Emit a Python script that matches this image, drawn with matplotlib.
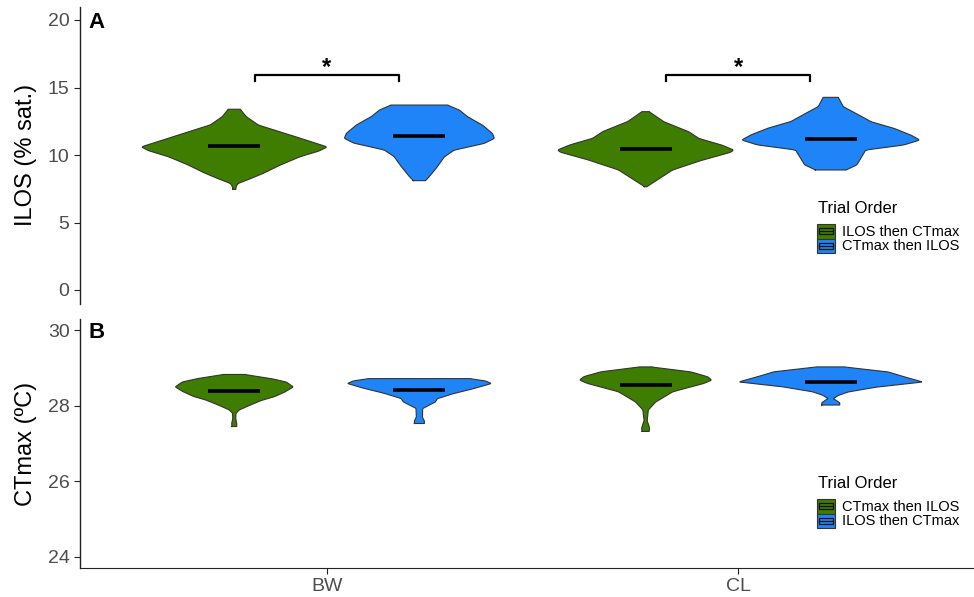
import numpy as np
import matplotlib
matplotlib.use("Agg")
import matplotlib.pyplot as plt
from matplotlib.patches import Rectangle
from matplotlib.lines import Line2D

plt.rcParams['font.family'] = ['Liberation Sans', 'DejaVu Sans']

# ---------------- data ----------------
sites = ["BW", "CL"]

# Panel A (ILOS) violin outlines: y values and half-width density readings
A_BW_first_y = [7.45, 7.7, 7.9, 8.15, 8.64, 9.26, 9.88, 10.3, 10.6, 10.9, 11.36, 11.85, 12.22, 12.84, 13.2, 13.39]
A_BW_first_d = [1.5, 2, 4, 13, 29, 46, 66, 85, 93, 80, 61, 40, 24, 12, 8, 6]
A_BW_second_y = [8.1, 8.4, 9.13, 9.87, 10.37, 10.86, 11.23, 11.6, 12.22, 12.84, 13.33, 13.7]
A_BW_second_d = [6, 10, 18, 25, 35, 65, 75, 73, 63, 48, 40, 28]
A_CL_first_y = [7.65, 8.27, 8.89, 9.63, 10.2, 10.37, 10.74, 11.23, 11.73, 12.47, 13.21]
A_CL_first_d = [1, 14, 27, 57, 85, 88, 76, 53, 43, 18, 3.5]
A_CL_second_y = [8.89, 9.26, 9.87, 10.37, 10.74, 11.11, 11.48, 11.98, 12.47, 13.09, 13.58, 14.27]
A_CL_second_d = [15, 26, 31, 35, 73, 89, 80, 63, 40, 25, 12.5, 7.5]
A_medians_first = [10.67, 10.44]
A_medians_second = [11.41, 11.16]

# Panel B (CTmax) violin outlines
B_BW_first_y = [27.45, 27.55, 27.65, 27.8, 27.89, 28.02, 28.15, 28.24, 28.37, 28.5, 28.63, 28.72, 28.83]
B_BW_first_d = [2.5, 2.5, 1.5, 1.7, 5, 16, 28, 40, 51, 59, 52, 37, 10]
B_BW_second_y = [27.53, 27.6, 27.7, 27.93, 28.05, 28.10, 28.19, 28.33, 28.46, 28.59, 28.66, 28.72]
B_BW_second_d = [5, 5, 3, 3.3, 12, 16, 18, 35, 55, 72, 66, 50]
B_CL_first_y = [27.32, 27.4, 27.5, 27.6, 27.89, 28.10, 28.24, 28.37, 28.5, 28.59, 28.68, 28.77, 28.9, 29.03]
B_CL_first_d = [3.5, 4, 3, 1.5, 2.7, 10, 19, 27, 45, 58, 66, 62, 45, 5]
B_CL_second_y = [28.02, 28.08, 28.15, 28.19, 28.28, 28.37, 28.5, 28.63, 28.77, 28.9, 29.03]
B_CL_second_d = [9, 9, 5, 2.5, 8, 18, 47, 92, 73, 57, 13]
B_medians_first = [28.38, 28.54]
B_medians_second = [28.43, 28.63]

A_legend_labels = ["ILOS then CTmax", "CTmax then ILOS"]
B_legend_labels = ["CTmax then ILOS", "ILOS then CTmax"]
legend_title = "Trial Order"

sig_sites = [0, 1]
sig_labels = ["*", "*"]
sig_height = 15.93

# ---------------- styles ----------------
GREEN = "#3F7D00"
BLUE = "#1E84F7"
EDGE = "#333333"
DODGE = 0.225
WIDTH_SCALE = 1.0 / 411.0
MED_HALF = 0.063

W, H = 974, 597
fig = plt.figure(figsize=(W / 100, H / 100), dpi=100)

def ax_rect(left, right, top, bottom):
    return [left / W, 1 - bottom / H, (right - left) / W, (bottom - top) / H]

axA = fig.add_axes(ax_rect(80, 985, 6.5, 303.5))
axB = fig.add_axes(ax_rect(80, 985, 319, 568))

def draw_violin(ax, xc, ys, ds, color):
    ys = np.asarray(ys, float)
    ds = np.asarray(ds, float)
    yy = np.linspace(ys[0], ys[-1], 300)
    hw = np.interp(yy, ys, ds)
    k = np.ones(7) / 7
    pad = np.pad(hw, 3, mode="edge")
    hw = np.convolve(pad, k, mode="valid") * WIDTH_SCALE
    ax.fill_betweenx(yy, xc - hw, xc + hw, facecolor=color, edgecolor="none", zorder=2)
    px = np.concatenate([xc - hw, (xc + hw)[::-1], [(xc - hw)[0]]])
    py = np.concatenate([yy, yy[::-1], [yy[0]]])
    ax.plot(px, py, color=EDGE, lw=0.8, zorder=3)

def draw_median(ax, xc, m):
    ax.plot([xc - MED_HALF, xc + MED_HALF], [m, m], color="black", lw=2.6,
            solid_capstyle="butt", zorder=4)

panelA = [(A_BW_first_y, A_BW_first_d, A_BW_second_y, A_BW_second_d),
          (A_CL_first_y, A_CL_first_d, A_CL_second_y, A_CL_second_d)]
panelB = [(B_BW_first_y, B_BW_first_d, B_BW_second_y, B_BW_second_d),
          (B_CL_first_y, B_CL_first_d, B_CL_second_y, B_CL_second_d)]

for ax, panel, mf, ms in [(axA, panelA, A_medians_first, A_medians_second),
                          (axB, panelB, B_medians_first, B_medians_second)]:
    for i, (y1, d1, y2, d2) in enumerate(panel):
        pos = i + 1
        draw_violin(ax, pos - DODGE, y1, d1, GREEN)
        draw_violin(ax, pos + DODGE, y2, d2, BLUE)
        draw_median(ax, pos - DODGE, mf[i])
        draw_median(ax, pos + DODGE, ms[i])

# significance brackets
for i, star in zip(sig_sites, sig_labels):
    pos = i + 1
    x0, x1 = pos - 0.175, pos + 0.175
    axA.plot([x0, x0, x1, x1], [sig_height - 0.45, sig_height, sig_height, sig_height - 0.45],
             color="black", lw=1.6, zorder=3)
    axA.text(pos, sig_height + 0.55, star, ha="center", va="center", fontsize=17,
             fontweight="bold", color="black")

# axes styling
for ax in (axA, axB):
    ax.set_xlim(0.4, 2.6)
    for s in ("top", "right"):
        ax.spines[s].set_visible(False)
    ax.spines["left"].set_color("#222222")
    ax.spines["left"].set_linewidth(1.0)
    ax.tick_params(axis="y", labelsize=14, colors="#222222", labelcolor="#4D4D4D", length=4, width=0.8)

axA.set_ylim(-1, 21)
axA.set_yticks([0, 5, 10, 15, 20])
axA.spines["bottom"].set_visible(False)
axA.set_xticks([])
axA.set_ylabel("ILOS (% sat.)", fontsize=17, labelpad=8)

axB.set_ylim(23.7, 30.3)
axB.set_yticks([24, 26, 28, 30])
axB.set_xticks([1, 2])
axB.set_xticklabels(sites)
axB.spines["bottom"].set_color("#222222")
axB.tick_params(axis="x", labelsize=14, colors="#222222", labelcolor="#4D4D4D", length=4, width=0.8, pad=3)
axB.set_ylabel("CTmax (ºC)", fontsize=17, labelpad=8)

fig.text(88 / W, 1 - 22 / H, "A", fontsize=16, fontweight="bold", va="center", ha="left")
fig.text(88 / W, 1 - 332 / H, "B", fontsize=16, fontweight="bold", va="center", ha="left")

# legends (drawn in figure pixel coordinates)
def fx(x):
    return x / W

def fy(y):
    return 1 - y / H

def draw_key(x0, y_top, w, h, color):
    fig.patches.append(Rectangle((fx(x0), fy(y_top + h)), w / W, h / H, facecolor=color,
                                 edgecolor=EDGE, lw=0.8, transform=fig.transFigure))
    ix0, ix1 = x0 + 0.12 * w, x0 + 0.88 * w
    iy0, iy1 = y_top + 0.28 * h, y_top + 0.72 * h
    fig.patches.append(Rectangle((fx(ix0), fy(iy1)), (ix1 - ix0) / W, (iy1 - iy0) / H,
                                 facecolor="none", edgecolor="#111111", lw=0.9,
                                 transform=fig.transFigure))
    fig.lines.append(Line2D([fx(ix0), fx(ix1)], [fy(y_top + 0.5 * h)] * 2, color="#111111",
                            lw=0.9, transform=fig.transFigure))

ROW = 14.5
for labels, title_y, key_top in [(A_legend_labels, 209, 224), (B_legend_labels, 484, 499)]:
    fig.text(fx(818), fy(title_y), legend_title, fontsize=12, ha="left", va="center")
    for j, (lab, col) in enumerate(zip(labels, [GREEN, BLUE])):
        top = key_top + j * ROW
        draw_key(817, top, 18, ROW, col)
        fig.text(fx(842), fy(top + ROW / 2 + 0.5), lab, fontsize=10.5, ha="left", va="center")

fig.savefig("out.png", dpi=100)
